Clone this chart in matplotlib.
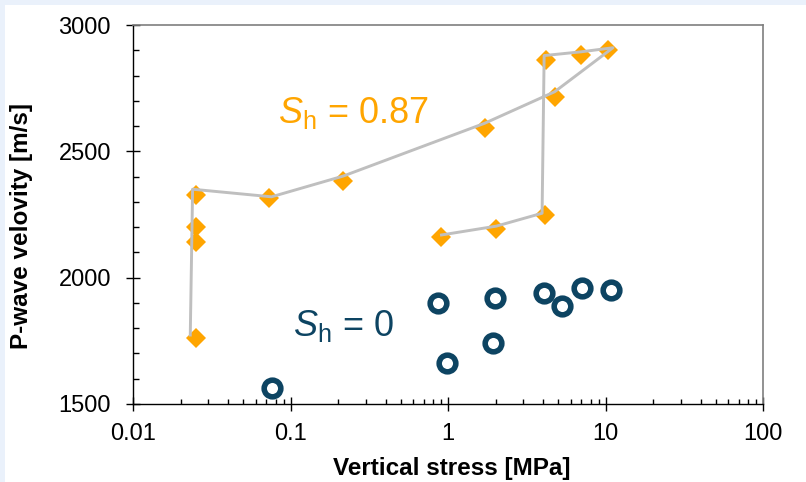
import matplotlib
matplotlib.use('Agg')
import matplotlib.pyplot as plt
from matplotlib.ticker import FixedLocator, LogLocator, NullFormatter
from matplotlib.patches import Rectangle

plt.rcParams['font.family'] = ['Liberation Sans', 'DejaVu Sans']
plt.rcParams['mathtext.fontset'] = 'custom'
plt.rcParams['mathtext.rm'] = 'Liberation Sans'
plt.rcParams['mathtext.it'] = 'Liberation Sans:italic'

# S_h = 0.87 measurements (diamonds)
sh87_stress = [0.025, 0.025, 0.025, 0.025, 0.073, 0.214, 1.70, 4.75, 10.4, 7.0, 4.16, 4.10, 2.0, 0.90]
sh87_vp = [1760, 2142, 2202, 2327, 2314, 2383, 2594, 2716, 2901, 2881, 2861, 2248, 2193, 2162]

# loading path drawn through the diamonds
path_stress = [0.023, 0.0238, 0.0754, 0.215, 1.70, 4.74, 11.1, 7.0, 4.06, 3.94, 2.02, 0.905]
path_vp = [1773, 2350, 2320, 2402, 2611, 2736, 2910, 2894, 2879, 2255, 2204, 2169]

# S_h = 0 measurements (open circles)
sh0_stress = [0.0762, 0.857, 0.98, 1.98, 1.92, 4.06, 5.26, 7.05, 10.8]
sh0_vp = [1562, 1901, 1663, 1921, 1740, 1938, 1889, 1958, 1951]

orange = '#FFA500'
teal = '#0D4462'

fig = plt.figure(figsize=(8.06, 4.82), dpi=100, facecolor='#EAF1FB')
fig.patches.append(Rectangle((5 / 806, 0), 1, 1 - 5 / 482, transform=fig.transFigure,
                             facecolor='white', edgecolor='none', zorder=-10))
ax = fig.add_axes([133.3 / 806, 78 / 482, 630 / 806, 379 / 482])

ax.plot(sh87_stress, sh87_vp, linestyle='none', marker='D', markersize=10,
        markerfacecolor=orange, markeredgewidth=0, zorder=2)
ax.plot(path_stress, path_vp, color='#BFBFBF', linewidth=2.1, zorder=3)
ax.plot(sh0_stress, sh0_vp, linestyle='none', marker='o', markersize=12,
        markerfacecolor='none', markeredgecolor=teal, markeredgewidth=4, zorder=4)

ax.set_xscale('log')
ax.set_xlim(0.01, 100)
ax.set_ylim(1500, 3000)

ax.set_xticks([0.01, 0.1, 1, 10, 100])
ax.set_xticklabels(['0.01', '0.1', '1', '10', '100'])
ax.xaxis.set_minor_locator(LogLocator(base=10, subs=range(2, 10)))
ax.xaxis.set_minor_formatter(NullFormatter())
ax.set_yticks([1500, 2000, 2500, 3000])
ax.yaxis.set_minor_locator(FixedLocator(range(1500, 3001, 100)))

ax.tick_params(which='major', direction='inout', length=10, width=1, labelsize=17, color='black')
ax.tick_params(axis='y', which='major', pad=11)
ax.tick_params(axis='x', which='major', pad=9)
ax.tick_params(axis='y', which='minor', direction='in', length=4.3, width=1)
ax.tick_params(axis='x', which='minor', direction='in', length=3.6, width=1)

for side in ['left', 'bottom']:
    ax.spines[side].set_color('black')
    ax.spines[side].set_linewidth(1)
for side in ['top', 'right']:
    ax.spines[side].set_color('#7F7F7F')
    ax.spines[side].set_linewidth(1.2)

ax.set_xlabel('Vertical stress [MPa]', fontsize=17.5, fontweight='bold')
ax.set_ylabel('P-wave velovity [m/s]', fontsize=17.5, fontweight='bold')
ax.xaxis.set_label_coords(0.505, -0.14)
ax.yaxis.set_label_coords(-0.159, 0.47)

ax.text(0.2297, 0.7406, r'$S_\mathrm{h}$ = 0.87', transform=ax.transAxes,
        fontsize=26, color=orange, ha='left', va='baseline')
ax.text(0.253, 0.179, r'$S_\mathrm{h}$ = 0', transform=ax.transAxes,
        fontsize=26, color=teal, ha='left', va='baseline')

fig.savefig('out.png', dpi=100, facecolor=fig.get_facecolor())
